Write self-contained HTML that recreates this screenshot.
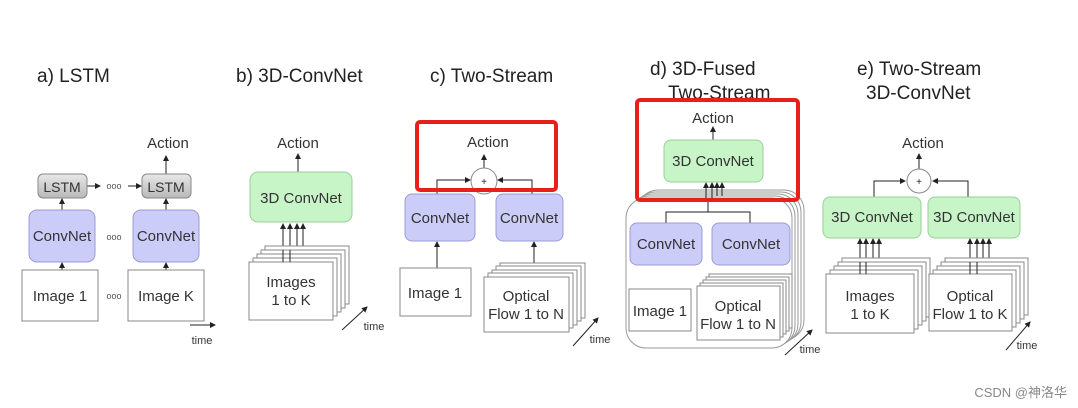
<!DOCTYPE html>
<html><head><meta charset="utf-8"><style>
html,body{margin:0;padding:0;background:#fff;}
svg{display:block;font-family:"Liberation Sans",Arial,sans-serif;}
</style></head><body>
<svg width="1078" height="408" viewBox="0 0 1078 408" xmlns="http://www.w3.org/2000/svg">
<defs>
<marker id="ah" markerWidth="6" markerHeight="6" refX="5" refY="3" orient="auto" markerUnits="userSpaceOnUse"><path d="M0,0 L6,3 L0,6 z" fill="#222"/></marker>
<linearGradient id="lg" x1="0" y1="0" x2="0" y2="1"><stop offset="0" stop-color="#e8e8e8"/><stop offset="1" stop-color="#b8b8b8"/></linearGradient>
</defs>
<g fill="#222" font-size="19">
<text x="37" y="82">a) LSTM</text>
<text x="236" y="82">b) 3D-ConvNet</text>
<text x="430" y="82">c) Two-Stream</text>
<text x="650" y="75">d) 3D-Fused</text>
<text x="668" y="99">Two-Stream</text>
<text x="857" y="75">e) Two-Stream</text>
<text x="866" y="99">3D-ConvNet</text>
</g>
<g stroke="#222" stroke-width="1" fill="none" marker-end="url(#ah)">
<line x1="62" y1="270" x2="62" y2="263"/><line x1="166" y1="270" x2="166" y2="263"/>
<line x1="62" y1="210" x2="62" y2="199"/><line x1="166" y1="210" x2="166" y2="199"/>
<line x1="87" y1="186" x2="100" y2="186"/><line x1="128" y1="186" x2="141" y2="186"/>
<line x1="166" y1="174" x2="166" y2="156"/>
<line x1="190" y1="325" x2="215" y2="325"/>
<line x1="298" y1="172" x2="298" y2="154"/>
<line x1="283" y1="262" x2="283" y2="224"/><line x1="290" y1="262" x2="290" y2="224"/><line x1="297" y1="258" x2="297" y2="224"/><line x1="303" y1="254" x2="303" y2="224"/>
<line x1="342" y1="330" x2="367" y2="307"/>
<line x1="484" y1="168" x2="484" y2="155"/>
<polyline points="437,194 437,180 470,180"/><polyline points="532,194 532,180 498,180"/>
<line x1="437" y1="268" x2="437" y2="242"/><line x1="534" y1="268" x2="534" y2="242"/>
<line x1="573" y1="346" x2="598" y2="318"/>
<line x1="713" y1="140" x2="713" y2="127"/>
<line x1="665" y1="289" x2="665" y2="266"/><line x1="745" y1="278" x2="745" y2="266"/>
<line x1="785" y1="355" x2="812" y2="330"/>
<line x1="919" y1="169" x2="919" y2="154"/>
<polyline points="874,197 874,181 905,181"/><polyline points="968,197 968,181 933,181"/>
<line x1="860" y1="272" x2="860" y2="239"/><line x1="866" y1="272" x2="866" y2="239"/><line x1="873" y1="268" x2="873" y2="239"/><line x1="879" y1="264" x2="879" y2="239"/>
<line x1="970" y1="272" x2="970" y2="239"/><line x1="977" y1="272" x2="977" y2="239"/><line x1="983" y1="268" x2="983" y2="239"/><line x1="989" y1="264" x2="989" y2="239"/>
<line x1="1006" y1="350" x2="1030" y2="322"/>
</g>
<g stroke="#888" stroke-width="1">
<rect x="38" y="174" width="49" height="24" rx="5" fill="url(#lg)"/>
<rect x="142" y="174" width="49" height="24" rx="5" fill="url(#lg)"/>
<rect x="29" y="210" width="66" height="52" rx="8" fill="#ccccf8" stroke="#9a9ad8"/>
<rect x="133" y="210" width="66" height="52" rx="8" fill="#ccccf8" stroke="#9a9ad8"/>
<rect x="22" y="270" width="76" height="51" fill="#fff"/>
<rect x="128" y="270" width="76" height="51" fill="#fff"/>
</g>
<rect x="250" y="172" width="102" height="50" rx="8" fill="#c8f5c8" stroke="#99d099"/>
<g stroke="#888" fill="#fff">
<rect x="265" y="246" width="84" height="58"/><rect x="261" y="250" width="84" height="58"/><rect x="257" y="254" width="84" height="58"/><rect x="253" y="258" width="84" height="58"/><rect x="249" y="262" width="84" height="58"/>
</g>
<g stroke="#222" fill="none"><line x1="283" y1="262" x2="283" y2="250"/><line x1="290" y1="262" x2="290" y2="250"/></g>
<rect x="405" y="194" width="70" height="47" rx="7" fill="#ccccf8" stroke="#9a9ad8"/>
<rect x="496" y="194" width="67" height="47" rx="7" fill="#ccccf8" stroke="#9a9ad8"/>
<circle cx="484" cy="181" r="13" fill="#fff" stroke="#888"/>
<g stroke="#888" fill="#fff">
<rect x="400" y="268" width="71" height="48"/>
<rect x="500" y="263" width="85" height="55"/><rect x="496" y="266" width="85" height="55"/><rect x="492" y="270" width="85" height="55"/><rect x="488" y="273" width="85" height="55"/><rect x="484" y="277" width="85" height="55"/>
</g>
<rect x="417" y="122" width="139" height="68" rx="3" fill="none" stroke="#e8201c" stroke-width="4"/>
<g stroke="#999" fill="#fff">
<rect x="638" y="190" width="166" height="150" rx="20"/><rect x="635" y="192" width="166" height="150" rx="20"/><rect x="632" y="194" width="166" height="150" rx="20"/><rect x="629" y="196" width="166" height="150" rx="20"/><rect x="626" y="198" width="166" height="150" rx="20"/>
</g>
<g stroke="#222" stroke-width="1" fill="none">
<polyline points="666,223 666,212 750,212 750,223"/><line x1="708" y1="212" x2="708" y2="198"/>
</g>
<g stroke="#222" stroke-width="1" fill="none" marker-end="url(#ah)">
<line x1="706" y1="200" x2="706" y2="183"/><line x1="712" y1="200" x2="712" y2="183"/><line x1="717" y1="196" x2="717" y2="183"/><line x1="722" y1="196" x2="722" y2="183"/>
</g>
<rect x="664" y="140" width="99" height="42" rx="7" fill="#c8f5c8" stroke="#99d099"/>
<rect x="630" y="223" width="72" height="42" rx="7" fill="#ccccf8" stroke="#9a9ad8"/>
<rect x="712" y="223" width="78" height="42" rx="7" fill="#ccccf8" stroke="#9a9ad8"/>
<g stroke="#888" fill="#fff">
<rect x="629" y="289" width="62" height="42"/>
<rect x="709" y="274" width="83" height="54"/><rect x="706" y="277" width="83" height="54"/><rect x="703" y="280" width="83" height="54"/><rect x="700" y="283" width="83" height="54"/><rect x="697" y="286" width="83" height="54"/>
</g>
<rect x="637" y="100" width="161" height="100" rx="3" fill="none" stroke="#e8201c" stroke-width="4"/>
<circle cx="919" cy="181" r="12" fill="#fff" stroke="#888"/>
<rect x="823" y="197" width="98" height="41" rx="7" fill="#c8f5c8" stroke="#99d099"/>
<rect x="928" y="197" width="92" height="41" rx="7" fill="#c8f5c8" stroke="#99d099"/>
<g stroke="#888" fill="#fff">
<rect x="842" y="258" width="88" height="59"/><rect x="838" y="262" width="88" height="59"/><rect x="834" y="266" width="88" height="59"/><rect x="830" y="270" width="88" height="59"/><rect x="826" y="274" width="88" height="59"/>
<rect x="945" y="258" width="83" height="57"/><rect x="941" y="262" width="83" height="57"/><rect x="937" y="266" width="83" height="57"/><rect x="933" y="270" width="83" height="57"/><rect x="929" y="274" width="83" height="57"/>
</g>
<g stroke="#222" fill="none">
<line x1="860" y1="274" x2="860" y2="262"/><line x1="866" y1="274" x2="866" y2="262"/>
<line x1="970" y1="274" x2="970" y2="262"/><line x1="977" y1="274" x2="977" y2="262"/>
</g>
<g fill="#333" font-size="15" text-anchor="middle">
<text x="168" y="148">Action</text>
<text x="62" y="192" font-size="14">LSTM</text><text x="166" y="192" font-size="14">LSTM</text>
<text x="62" y="241">ConvNet</text><text x="166" y="241">ConvNet</text>
<text x="60" y="301">Image 1</text><text x="166" y="301">Image K</text>
<text x="202" y="344" font-size="11">time</text>
<text x="298" y="148">Action</text>
<text x="301" y="203">3D ConvNet</text>
<text x="291" y="287">Images</text><text x="291" y="305">1 to K</text>
<text x="374" y="330" font-size="11">time</text>
<text x="488" y="147">Action</text>
<text x="440" y="223">ConvNet</text><text x="529" y="223">ConvNet</text>
<text x="435" y="298">Image 1</text>
<text x="526" y="301">Optical</text><text x="526" y="319">Flow 1 to N</text>
<text x="600" y="343" font-size="11">time</text>
<text x="713" y="123">Action</text>
<text x="713" y="166">3D ConvNet</text>
<text x="666" y="249">ConvNet</text><text x="751" y="249">ConvNet</text>
<text x="660" y="316">Image 1</text>
<text x="738" y="311">Optical</text><text x="738" y="329">Flow 1 to N</text>
<text x="810" y="353" font-size="11">time</text>
<text x="923" y="148">Action</text>
<text x="872" y="222">3D ConvNet</text><text x="974" y="222">3D ConvNet</text>
<text x="870" y="301">Images</text><text x="870" y="319">1 to K</text>
<text x="970" y="301">Optical</text><text x="970" y="319">Flow 1 to K</text>
<text x="1027" y="349" font-size="11">time</text>
</g>
<g fill="#222" font-size="10" text-anchor="middle">
<text x="484" y="185">+</text><text x="919" y="185">+</text>
</g>
<g fill="#555" font-size="9" text-anchor="middle">
<text x="114" y="189">ooo</text><text x="114" y="240">ooo</text><text x="114" y="299">ooo</text>
</g>
<text x="1067" y="397" font-size="13" fill="#888" text-anchor="end" font-family="Liberation Sans, Noto Sans CJK SC, sans-serif">CSDN @神洛华</text>
</svg>
</body></html>
